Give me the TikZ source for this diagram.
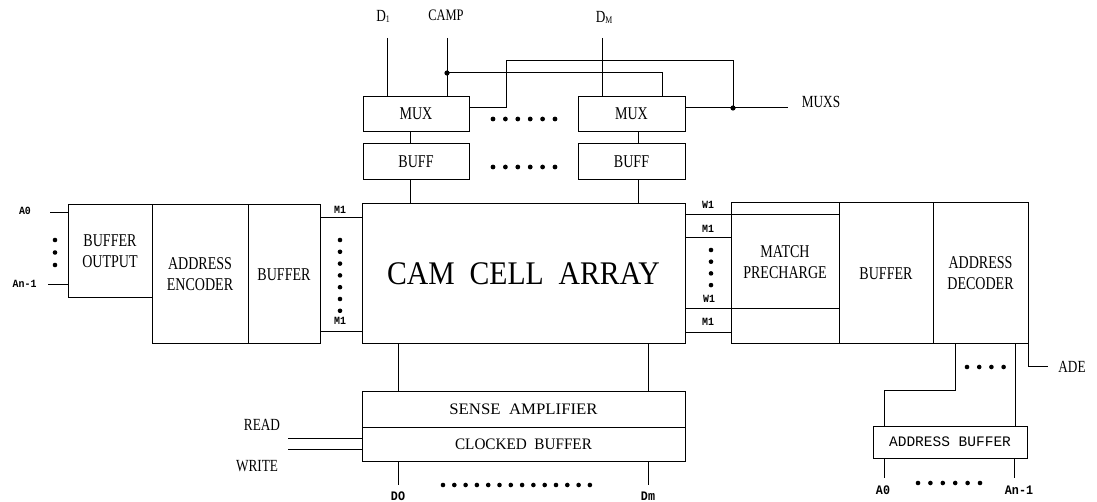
\documentclass[tikz,border=0pt]{standalone}
\usepackage{fontspec}
\setmainfont{Liberation Serif}
\newfontfamily\cf[FakeStretch=0.78]{Liberation Serif}
\newfontfamily\cfw[FakeStretch=0.9]{Liberation Serif}
\newfontfamily\mf{Liberation Mono}
\newfontfamily\mfb[FakeStretch=0.9]{Liberation Mono Bold}
\begin{document}
\begin{tikzpicture}[x=1pt,y=-1pt,line width=1pt,
  box/.style={draw, line width=1pt, inner sep=0pt, outer sep=0pt, align=center,
    font=\cf\fontsize{18}{21}\selectfont},
  lbl/.style={inner sep=0pt, font=\cf\fontsize{17}{20}\selectfont},
  sml/.style={inner sep=0pt, font=\mfb\fontsize{11}{12}\selectfont},
  bot/.style={inner sep=0pt, font=\mfb\fontsize{13}{14}\selectfont}]
\useasboundingbox (0,0) rectangle (1097,502);

% ---- main boxes
\node[box, minimum width=84pt, minimum height=93pt] (bo) at (110,251.5) {BUFFER\\OUTPUT};
\node[box, minimum width=96pt, minimum height=139pt] (ae) at (200,274.5) {ADDRESS\\ENCODER};
\node[box, minimum width=72pt, minimum height=139pt] (bl) at (284,274.5) {BUFFER};
\node[box, minimum width=323pt, minimum height=140pt, font=\cfw\fontsize{33}{36}\selectfont] (cam) at (523.5,274) {CAM\ \ CELL\ \ ARRAY};

\node[box, minimum width=106pt, minimum height=35pt] (mux1) at (416,114) {MUX};
\node[box, minimum width=106pt, minimum height=36pt] (buff1) at (416,162) {BUFF};
\node[box, minimum width=107pt, minimum height=35pt] (mux2) at (631.5,114) {MUX};
\node[box, minimum width=107pt, minimum height=36pt] (buff2) at (631.5,162) {BUFF};

\node[box, minimum width=108pt, minimum height=11.5pt] (mp0) at (785,208.75) {};
\node[box, minimum width=108pt, minimum height=94.5pt] (mp) at (785,261.75) {MATCH\\PRECHARGE};
\node[box, minimum width=108pt, minimum height=35pt] (mp2) at (785,326.5) {};
\node[box, minimum width=94pt, minimum height=141pt] (br) at (886,273.5) {BUFFER};
\node[box, minimum width=95pt, minimum height=141pt] (ad) at (980.5,273.5) {ADDRESS\\DECODER};

\node[box, minimum width=323pt, minimum height=36pt, font=\cf\fontsize{16}{18}\selectfont] (sa) at (523.5,409) {\addfontfeatures{FakeStretch=1.05}SENSE\ \ AMPLIFIER};
\node[box, minimum width=323pt, minimum height=34pt, font=\cf\fontsize{16}{18}\selectfont] (cb) at (523.5,444) {\addfontfeatures{FakeStretch=0.95}CLOCKED\ \ BUFFER};
\node[box, minimum width=154pt, minimum height=32pt, font=\mf\fontsize{14.5}{16}\selectfont] (ab) at (950,442) {ADDRESS BUFFER};

% ---- left inputs
\coordinate (a0l) at (50,213);
\coordinate (anl) at (48,285);
\draw (a0l) -- (a0l -| bo.west);
\draw (anl) -- (anl -| bo.west);
\node[sml] (la0) at (25,211) {A0};
\node[sml, anchor=east] (lan) at (37,284) {An-1};
\foreach \y in {240,252.5,265} \fill (55,\y) circle (2.3pt);

% ---- left M lines
\coordinate (m1a) at (330,218);
\coordinate (m1b) at (330,332);
\draw (m1a -| bl.east) -- (m1a -| cam.west);
\draw (m1b -| bl.east) -- (m1b -| cam.west);
\node[sml] (lm1a) at (340,210) {M1};
\node[sml] (lm1b) at (340,321) {M1};
\foreach \i in {0,...,6} \fill (340,240+\i*11.8) circle (2.3pt);

% ---- right W/M lines
\coordinate (rw1) at (700,214.5);
\coordinate (rm1) at (700,238);
\coordinate (rw2) at (700,309);
\coordinate (rm2) at (700,333);
\draw (rw1 -| cam.east) -- (rw1 -| mp.west);
\draw (rm1 -| cam.east) -- (rm1 -| mp.west);
\draw (rw2 -| cam.east) -- (rw2 -| mp.west);
\draw (rm2 -| cam.east) -- (rm2 -| mp2.west);
\node[sml] (lw1) at (708,205) {W1};
\node[sml] (lrm1) at (708,229) {M1};
\node[sml] (lw2) at (709,299) {W1};
\node[sml] (lrm2) at (708,322) {M1};
\foreach \i in {0,...,3} \fill (711,250+\i*11.7) circle (2.3pt);

% ---- top
\node[lbl] (ld1) at (383,16) {D\raisebox{-1pt}{\fontsize{10}{10}\selectfont 1}};
\node[lbl, font=\cf\fontsize{16}{18}\selectfont] (lcamp) at (446,15) {CAMP};
\node[lbl] (ldm) at (604,17) {D\raisebox{-1pt}{\fontsize{10}{10}\selectfont M}};
\coordinate (d1t) at (387,38);
\coordinate (campt) at (447,38);
\coordinate (campj) at (447,73);
\coordinate (c2) at (662,73);
\coordinate (dmt) at (602,38);
\draw (d1t) -- (d1t |- mux1.north);
\draw (campt) -- (campt |- mux1.north);
\draw (dmt) -- (dmt |- mux2.north);
\draw (campj) -- (c2) -- (c2 |- mux2.north);
\fill (campj) circle (2.6pt);
\coordinate (k1) at (506,61);
\coordinate (mj) at (733,108);
\coordinate (muxs) at (788,108);
\draw (mux1.east |- mj) -| (k1) -| (mj);
\draw (mux2.east |- mj) -- (muxs);
\fill (mj) circle (2.6pt);
\node[lbl] (lmuxs) at (821,102) {MUXS};
\foreach \i in {0,...,5} {
  \fill (493+\i*12.4,119) circle (2.4pt);
  \fill (493+\i*12.4,167) circle (2.4pt);
}
\coordinate (x1) at (410,138);
\coordinate (x2) at (638,138);
\draw (x1 |- mux1.south) -- (x1 |- buff1.north);
\draw (x1 |- buff1.south) -- (x1 |- cam.north);
\draw (x2 |- mux2.south) -- (x2 |- buff2.north);
\draw (x2 |- buff2.south) -- (x2 |- cam.north);

% ---- bottom
\coordinate (b1) at (398,485);
\coordinate (b2) at (648,485);
\draw (b1 |- cam.south) -- (b1 |- sa.north);
\draw (b2 |- cam.south) -- (b2 |- sa.north);
\draw (b1 |- cb.south) -- (b1);
\draw (b2 |- cb.south) -- (b2);
\node[bot] (ld0) at (398,496) {DO};
\node[bot] (ldm2) at (648,496) {Dm};
\foreach \i in {0,...,13} \fill (443+\i*11.3,485) circle (2.3pt);
\coordinate (rd) at (288,438);
\coordinate (wr) at (288,449);
\draw (rd) -- (rd -| cb.west);
\draw (wr) -- (wr -| cb.west);
\node[lbl] (lread) at (262,425) {READ};
\node[lbl] (lwrite) at (257,466) {WRITE};

% ---- right bottom
\coordinate (q1) at (955,390);
\coordinate (q2) at (884,390);
\coordinate (q3) at (1015,400);
\draw (q1 |- ad.south) -- (q1) -- (q2) -- (q2 |- ab.north);
\draw (q3 |- ad.south) -- (q3 |- ab.north);
\coordinate (ade) at (1048,366);
\draw (ad.south east) |- (ade);
\node[lbl] (lade) at (1072,367) {ADE};
\foreach \i in {0,...,3} \fill (967+\i*12.2,367) circle (2.3pt);
\coordinate (e1) at (884,478);
\coordinate (e2) at (1014,478);
\draw (e1 |- ab.south) -- (e1);
\draw (e2 |- ab.south) -- (e2);
\node[bot] (la0b) at (883,490) {A0};
\node[bot] (lanb) at (1019,490) {An-1};
\foreach \i in {0,...,5} \fill (918+\i*12.4,483) circle (2.3pt);
\end{tikzpicture}
\end{document}
